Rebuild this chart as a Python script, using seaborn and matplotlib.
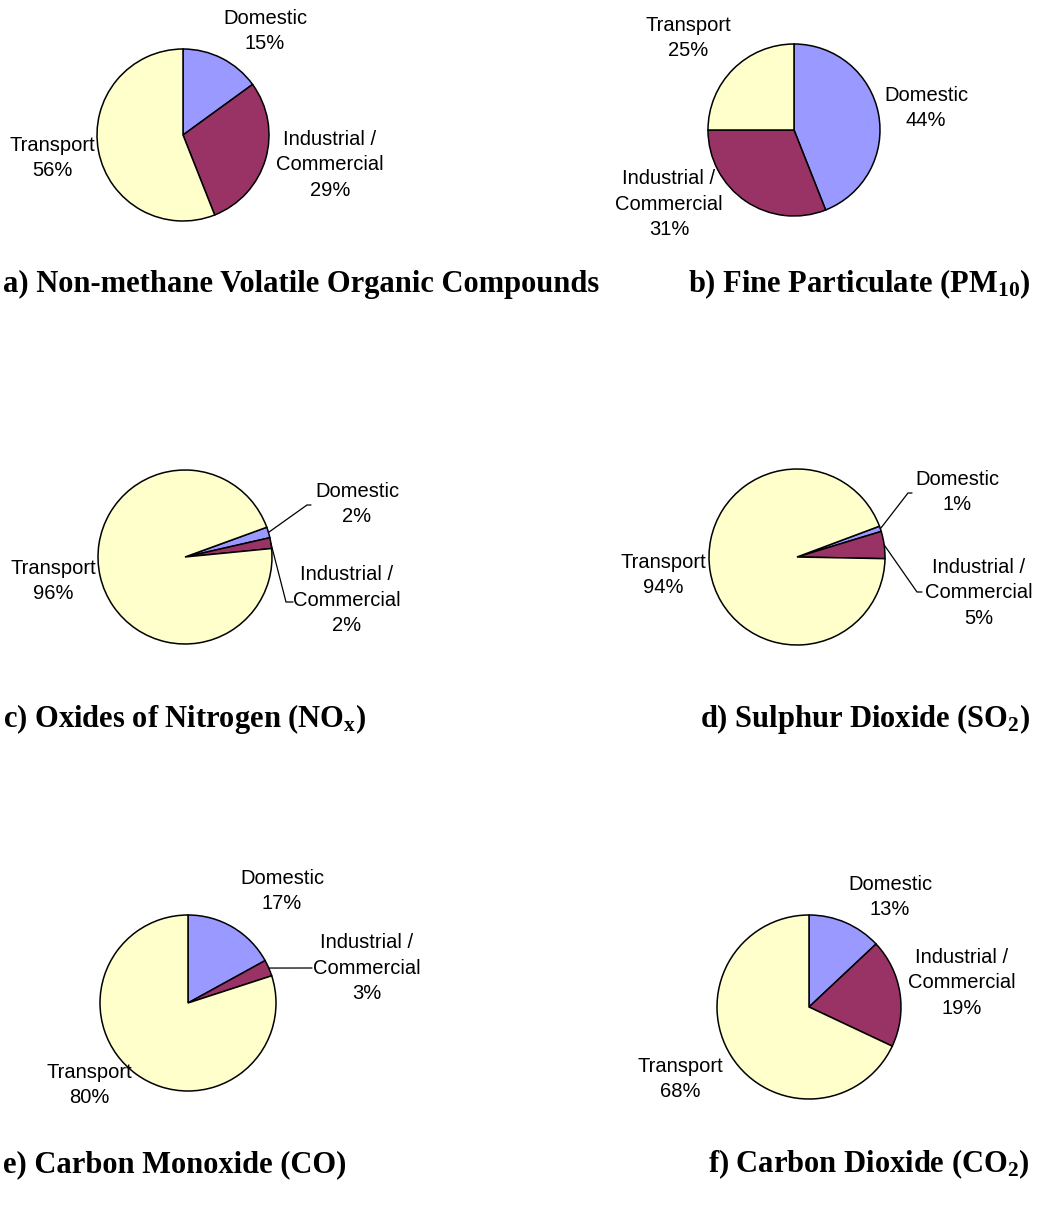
import numpy as np
import matplotlib
matplotlib.use("Agg")
import matplotlib.pyplot as plt
import seaborn as sns

# ---------------- data ----------------
sectors = ["Domestic", "Industrial /\nCommercial", "Transport"]
colors = ["#9999FF", "#993366", "#FFFFCC"]

titles = [
    "a) Non-methane Volatile Organic Compounds",
    r"b) Fine Particulate (PM$_{\mathbf{10}}$)",
    r"c) Oxides of Nitrogen (NO$_{\mathbf{x}}$)",
    r"d) Sulphur Dioxide (SO$_{\mathbf{2}}$)",
    "e) Carbon Monoxide (CO)",
    r"f) Carbon Dioxide (CO$_{\mathbf{2}}$)",
]
vals_a = [15, 29, 56]
vals_b = [44, 31, 25]
vals_c = [2, 2, 96]
vals_d = [1, 5, 94]
vals_e = [17, 3, 80]
vals_f = [13, 19, 68]
values = [vals_a, vals_b, vals_c, vals_d, vals_e, vals_f]
start_angles = [90, 90, 20, 20.5, 90, 90]

# ---------------- layout (pixels) ----------------
W, H = 1038, 1209
sns.set_theme(style="white")
plt.rcParams["font.family"] = ["Liberation Sans", "DejaVu Sans"]
plt.rcParams["text.color"] = "black"
plt.rcParams["mathtext.fontset"] = "custom"
plt.rcParams["mathtext.rm"] = "Liberation Serif:bold"
plt.rcParams["mathtext.bf"] = "Liberation Serif:bold"
plt.rcParams["mathtext.it"] = "Liberation Serif:bold"

fig = plt.figure(figsize=(W / 100, H / 100), dpi=100)
fig.patch.set_facecolor("white")

# pie centre and radius
centres = [(183, 135, 86), (794, 130, 86), (185, 557, 87),
           (797, 557, 88), (188, 1003, 88), (809, 1007, 92)]
# label centres per sector (Domestic, Industrial, Transport)
label_pos = [
    [(265, 31), (330, 165), (52, 158)],
    [(926, 108), (669, 204), (688, 38)],
    [(357, 504), (347, 600), (53, 581)],
    [(957, 492), (979, 593), (663, 575)],
    [(282, 891), (367, 968), (89, 1085)],
    [(890, 897), (962, 983), (680, 1079)],
]
# leader lines: (panel, sector) -> list of elbow points after the wedge edge
leaders = {
    (2, 0): [(307, 505), (311, 505)],
    (2, 1): [(286, 602), (293, 602)],
    (3, 0): [(908, 493), (912, 493)],
    (3, 1): [(917, 592), (922, 592)],
    (4, 1): [(312, 968)],
}
# title anchors: (x, baseline y, ha)
title_pos = [(3, 292, "left"), (1030, 292, "right"),
             (3, 727, "left"), (1030, 727, "right"),
             (3, 1172, "left"), (1030, 1172, "right")]

for i, (vals, sa) in enumerate(zip(values, start_angles)):
    cx, cy, r = centres[i]
    ax = fig.add_axes([(cx - r) / W, 1 - (cy + r) / H, 2 * r / W, 2 * r / H])
    wedges, _ = ax.pie(vals, colors=colors, startangle=sa, counterclock=False,
                       radius=1,
                       wedgeprops=dict(edgecolor="black", linewidth=1.1))
    ax.set_xlim(-1, 1)
    ax.set_ylim(-1, 1)
    ax.set_aspect("equal")
    ax.axis("off")

    def to_data(px, py):
        return (px - cx) / r, (cy - py) / r

    for j, (name, v) in enumerate(zip(sectors, vals)):
        lx, ly = to_data(*label_pos[i][j])
        ax.text(lx, ly, f"{name}\n{v}%", ha="center", va="center",
                fontsize=14.5, color="black", clip_on=False,
                linespacing=1.45)
        if (i, j) in leaders:
            w = wedges[j]
            mid = np.deg2rad((w.theta1 + w.theta2) / 2)
            xs = [np.cos(mid)]
            ys = [np.sin(mid)]
            for (px, py) in leaders[(i, j)]:
                dx, dy = to_data(px, py)
                xs.append(dx)
                ys.append(dy)
            ax.plot(xs, ys, color="black", lw=0.9, clip_on=False)

    tx, ty, ha = title_pos[i]
    fig.text(tx / W, 1 - ty / H, titles[i], ha=ha, va="baseline",
             fontsize=22, fontweight="bold", color="black",
             family=["Liberation Serif", "DejaVu Serif"])

fig.savefig("out.png", dpi=100, facecolor="white")
